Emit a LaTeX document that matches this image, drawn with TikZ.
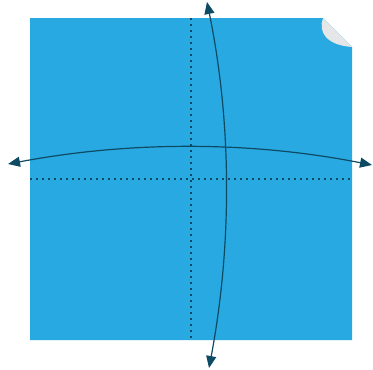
\documentclass[tikz,border=0pt]{standalone}
\usepackage{tikz}
\usetikzlibrary{arrows.meta}
\definecolor{sheetblue}{HTML}{29A9E1}
\definecolor{curlgray}{HTML}{E5E6E8}
\definecolor{axisdark}{HTML}{0D4A64}

\begin{document}
\begin{tikzpicture}[x=1pt, y=-1pt,
  foldline/.style={axisdark, line width=1.8pt, dash pattern=on 1.8pt off 4.2pt},
  bendarrow/.style={axisdark, line width=1.2pt,
    {Triangle[length=12pt,width=10pt]}-{Triangle[length=12pt,width=10pt]}}]
  \useasboundingbox (0,0) rectangle (373,370);

  % Sheet with the dog-eared corner
  \fill[sheetblue] (30,18) -- (323,18) -- (352,47) -- (352,340) -- (30,340) -- cycle;
  \fill[curlgray] (323,18) .. controls (318,32) and (326,45) .. (352,47) -- cycle;

  % Fold lines through the sheet
  \coordinate (vtop) at (191,18);
  \coordinate (vbot) at (191,340);
  \coordinate (hleft) at (30,179);
  \coordinate (hright) at (352,179);
  \draw[foldline] (vtop) -- (vbot);
  \draw[foldline] (hleft) -- (hright);

  % Curved arrows
  \coordinate (wleft) at (8,164);
  \coordinate (wright) at (372,165);
  \coordinate (ntop) at (207,2);
  \coordinate (nbot) at (209,368);
  \draw[bendarrow] (wleft) .. controls (130,141) and (250,141) .. (wright);
  \draw[bendarrow] (ntop) .. controls (232,124) and (232,246) .. (nbot);
\end{tikzpicture}
\end{document}
